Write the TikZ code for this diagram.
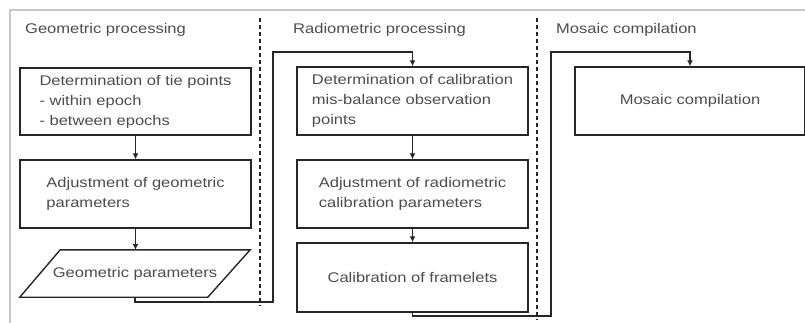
\documentclass[tikz,border=0pt]{standalone}
\usepackage{fontspec}
\setmainfont{Liberation Sans}[FakeStretch=1.18]
\usetikzlibrary{arrows.meta}

\begin{document}
\begin{tikzpicture}[x=1pt, y=-1pt, font=\fontsize{14}{20}\selectfont,
	head/.style={anchor=west, text=black!70, inner sep=0pt},
	box/.style={draw=black!85, line width=1.4pt, rectangle, align=left, text=black!70, inner sep=0pt},
	datbox/.style={text=black!70, inner sep=0pt},
	outline/.style={draw=black!85, line width=1.4pt, line join=miter},
	conn/.style={draw=black!85, line width=1.6pt, -{Latex[length=6pt,width=6pt]}},
	sep/.style={draw=black!85, line width=1.2pt, dash pattern=on 4pt off 3pt}]
	\useasboundingbox (0,0) rectangle (805,323);
	%frame
	\draw[gray!45, line width=1.5pt] (10,323) -- (10,10) -- (805,10);
	%columns
	\draw[sep] (260,18) -- (260,306);
	\draw[sep] (537,18) -- (537,320);
	%headers
	\node[head] (hgeo) at (25,30) {Geometric processing};
	\node[head] (hrad) at (293,30) {Radiometric processing};
	\node[head] (hmos) at (556,30) {Mosaic compilation};
	%geometric processing
	\node[box, minimum width=231pt, minimum height=67pt] (tie) at (135.5,101.5)
	{Determination of tie points\\- within epoch\\- between epochs};
	\node[box, minimum width=231pt, minimum height=68pt] (adj) at (135.5,194)
	{Adjustment of geometric\\parameters};
	\node[datbox, minimum width=230pt, minimum height=47pt] (par) at (135,273.5)
	{Geometric parameters};
	\draw[outline] (par.south west) -- ++(188,0) -- (par.north east) -- ++(-190,0) -- cycle;
	%radiometric processing
	\node[box, minimum width=231pt, minimum height=68pt] (cal) at (412.5,101)
	{Determination of calibration\\mis-balance observation\\points};
	\node[box, minimum width=231pt, minimum height=68pt] (radj) at (412.5,194)
	{Adjustment of radiometric\\calibration parameters};
	\node[box, minimum width=231pt, minimum height=69pt] (frm) at (412.5,277.5)
	{Calibration of framelets};
	%mosaic compilation
	\node[box, minimum width=230pt, minimum height=68pt] (mos) at (690,101)
	{Mosaic compilation};
	%connectors
	\coordinate (turn1) at (273,52);
	\coordinate (turn2) at (551,52);
	\draw[conn] (tie) -- (adj);
	\draw[conn] (adj.south) -- (adj.south |- par.north);
	\draw[conn] (par.south) -- ++(0,5) -| (turn1) -| (cal.north);
	\draw[conn] (cal) -- (radj);
	\draw[conn] (radj) -- (frm);
	\draw[conn] (frm.south) -- ++(0,3) -| (turn2) -| (mos.north);
\end{tikzpicture}
\end{document}
